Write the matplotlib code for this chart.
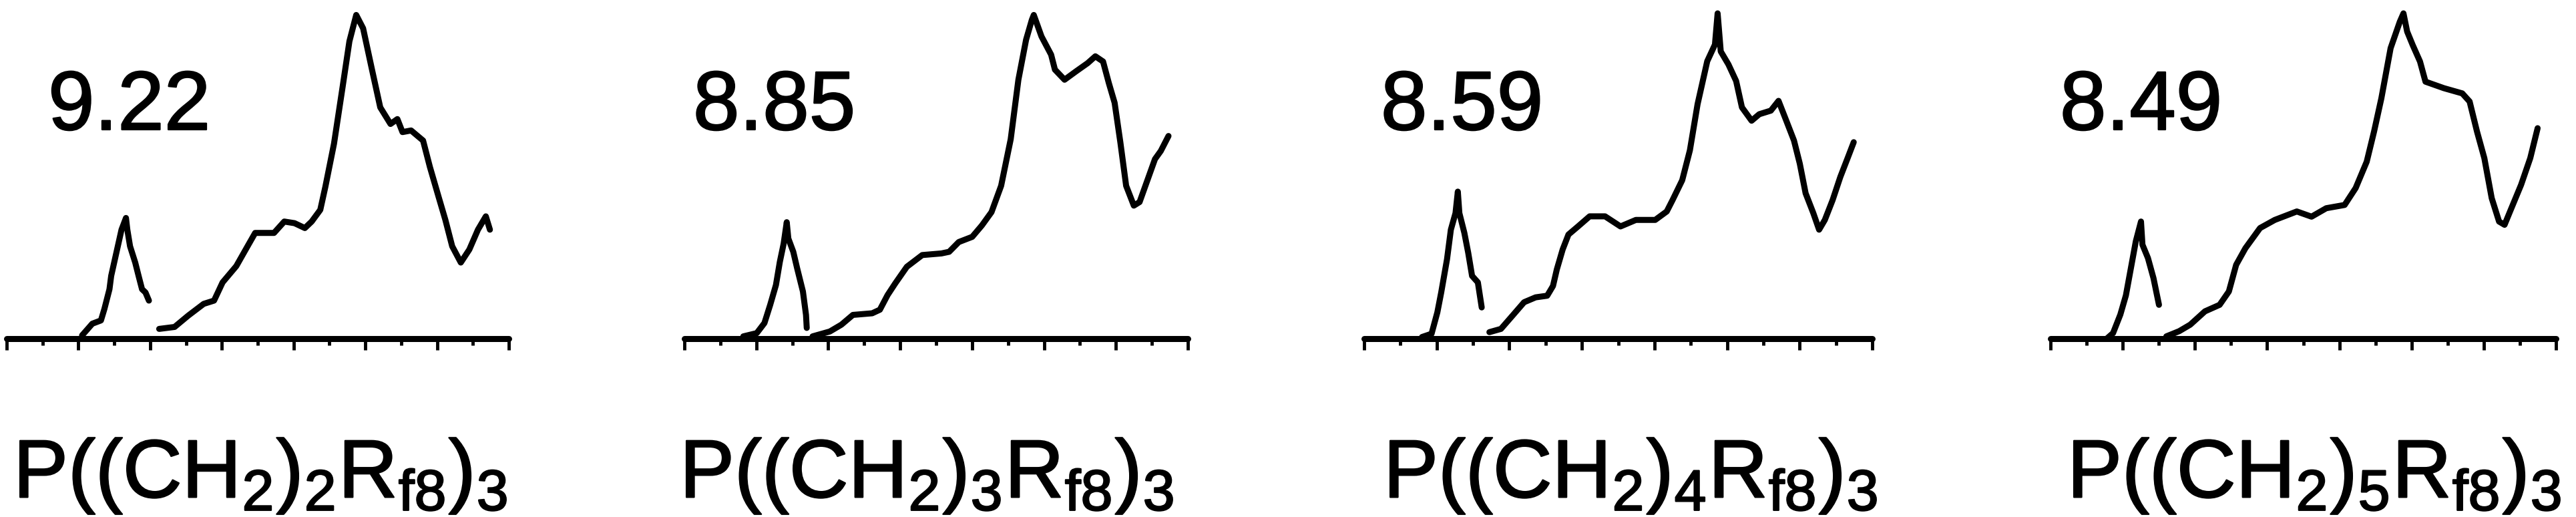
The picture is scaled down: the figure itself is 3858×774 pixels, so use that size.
import matplotlib
matplotlib.use("Agg")
import matplotlib.pyplot as plt
import matplotlib.patheffects as pe
from matplotlib.ticker import MultipleLocator

plt.rcParams['font.family'] = ['Liberation Sans', 'DejaVu Sans']
plt.rcParams['mathtext.fontset'] = 'custom'
plt.rcParams['mathtext.rm'] = 'Liberation Sans'
plt.rcParams['mathtext.it'] = 'Liberation Sans'

# ---- data (x in major-tick units 0..7, y normalised to main peak) ----
values = ["9.22", "8.85", "8.59", "8.49"]
chain_n = ["2", "3", "4", "5"]

p1_small_x = [1.051, 1.194, 1.314, 1.362, 1.433, 1.457, 1.529, 1.601, 1.663, 1.682, 1.720, 1.792, 1.839, 1.887, 1.935, 1.983]
p1_small_y = [0.010, 0.046, 0.056, 0.091, 0.152, 0.193, 0.264, 0.335, 0.371, 0.335, 0.284, 0.234, 0.193, 0.152, 0.142, 0.117]
p1_main_x = [2.126, 2.341, 2.532, 2.747, 2.891, 3.010, 3.201, 3.345, 3.464, 3.727, 3.870, 4.013, 4.157, 4.252, 4.372, 4.443,
             4.563, 4.682, 4.778, 4.873, 4.969, 5.088, 5.208, 5.351, 5.447, 5.518, 5.638, 5.805, 5.900, 6.020, 6.116, 6.211,
             6.331, 6.450, 6.570, 6.680, 6.737]
p1_main_y = [0.030, 0.036, 0.071, 0.107, 0.117, 0.173, 0.223, 0.279, 0.325, 0.325, 0.360, 0.355, 0.340, 0.360, 0.396, 0.467,
             0.599, 0.772, 0.914, 0.995, 0.954, 0.832, 0.711, 0.660, 0.675, 0.635, 0.640, 0.609, 0.528, 0.437, 0.365, 0.284,
             0.234, 0.274, 0.335, 0.376, 0.335]

p2_small_x = [0.819, 1.006, 1.113, 1.193, 1.273, 1.327, 1.380, 1.423, 1.445, 1.514, 1.568, 1.648, 1.691, 1.701]
p2_small_y = [0.007, 0.017, 0.048, 0.104, 0.165, 0.236, 0.292, 0.358, 0.308, 0.267, 0.216, 0.145, 0.073, 0.033]
p2_main_x = [1.782, 2.022, 2.183, 2.343, 2.611, 2.718, 2.825, 2.932, 3.093, 3.307, 3.574, 3.681, 3.815, 4.002, 4.136, 4.270,
             4.404, 4.537, 4.644, 4.751, 4.831, 4.858, 4.965, 5.099, 5.152, 5.286, 5.447, 5.607, 5.714, 5.821, 5.901, 5.982,
             6.062, 6.142, 6.249, 6.329, 6.410, 6.543, 6.624, 6.731]
p2_main_y = [0.007, 0.022, 0.043, 0.073, 0.078, 0.089, 0.134, 0.170, 0.221, 0.257, 0.262, 0.267, 0.297, 0.313, 0.348, 0.389,
             0.470, 0.613, 0.796, 0.919, 0.980, 0.995, 0.929, 0.873, 0.827, 0.796, 0.822, 0.847, 0.868, 0.852, 0.786, 0.725,
             0.603, 0.470, 0.409, 0.420, 0.470, 0.552, 0.577, 0.623]

p3_small_x = [0.797, 0.929, 1.009, 1.062, 1.142, 1.195, 1.259, 1.291, 1.312, 1.381, 1.434, 1.487, 1.567, 1.620]
p3_small_y = [0.005, 0.015, 0.081, 0.142, 0.244, 0.335, 0.386, 0.452, 0.386, 0.325, 0.264, 0.193, 0.173, 0.096]
p3_main_x = [1.726, 1.885, 2.045, 2.204, 2.363, 2.522, 2.602, 2.655, 2.735, 2.815, 2.947, 3.107, 3.319, 3.532, 3.744, 4.010,
             4.169, 4.249, 4.382, 4.488, 4.594, 4.727, 4.833, 4.870, 4.913, 5.019, 5.125, 5.205, 5.338, 5.444, 5.603, 5.709,
             5.816, 5.922, 6.002, 6.082, 6.188, 6.268, 6.347, 6.454, 6.560, 6.666, 6.745]
p3_main_y = [0.020, 0.030, 0.071, 0.112, 0.127, 0.132, 0.162, 0.213, 0.274, 0.320, 0.345, 0.376, 0.376, 0.345, 0.365, 0.365,
             0.391, 0.426, 0.487, 0.579, 0.721, 0.853, 0.904, 1.000, 0.883, 0.843, 0.792, 0.711, 0.670, 0.690, 0.701, 0.731,
             0.670, 0.609, 0.538, 0.447, 0.386, 0.335, 0.365, 0.426, 0.497, 0.558, 0.604]

p4_small_x = [0.789, 0.866, 0.967, 1.044, 1.120, 1.181, 1.253, 1.273, 1.349, 1.426, 1.502]
p4_small_y = [0.002, 0.017, 0.074, 0.133, 0.225, 0.299, 0.360, 0.289, 0.248, 0.186, 0.104]
p4_main_x = [1.604, 1.782, 1.935, 2.139, 2.342, 2.470, 2.571, 2.699, 2.902, 3.106, 3.411, 3.615, 3.819, 4.073, 4.226, 4.379,
             4.481, 4.582, 4.710, 4.837, 4.888, 4.939, 5.015, 5.117, 5.193, 5.448, 5.702, 5.804, 5.906, 6.008, 6.110, 6.212,
             6.288, 6.364, 6.517, 6.644, 6.746]
p4_main_y = [0.007, 0.023, 0.043, 0.084, 0.104, 0.145, 0.227, 0.278, 0.340, 0.365, 0.391, 0.375, 0.401, 0.411, 0.463, 0.544,
             0.637, 0.739, 0.893, 0.974, 1.000, 0.944, 0.903, 0.852, 0.790, 0.770, 0.754, 0.729, 0.637, 0.555, 0.432, 0.360,
             0.350, 0.391, 0.473, 0.555, 0.647]

small_x = [p1_small_x, p2_small_x, p3_small_x, p4_small_x]
small_y = [p1_small_y, p2_small_y, p3_small_y, p4_small_y]
main_x = [p1_main_x, p2_main_x, p3_main_x, p4_main_x]
main_y = [p1_main_y, p2_main_y, p3_main_y, p4_main_y]

# ---- layout (pixels) ----
W, H = 3858, 774
axis_left = [10, 1025, 2043, 3071]
axis_right = [762, 1779, 2804, 3828]
axis_y = 507
top_y = 20
num_x = [72, 1038, 2068, 3085]
num_base = 194
lab_x = [20, 1018, 2072, 3096]
lab_base = 745

bold = [pe.withStroke(linewidth=1.6, foreground='black')]

fig = plt.figure(figsize=(W / 100, H / 100), dpi=100)
for i in range(4):
    l = axis_left[i] / W
    w = (axis_right[i] - axis_left[i]) / W
    b = (H - axis_y) / H
    h = (axis_y - top_y) / H
    ax = fig.add_axes([l, b, w, h])
    ax.plot(small_x[i], small_y[i], color='black', lw=6.5, solid_joinstyle='round', solid_capstyle='round', clip_on=False)
    ax.plot(main_x[i], main_y[i], color='black', lw=6.5, solid_joinstyle='round', solid_capstyle='round', clip_on=False)
    ax.set_xlim(0, 7)
    ax.set_ylim(0, 1)
    for s in ['left', 'right', 'top']:
        ax.spines[s].set_visible(False)
    ax.spines['bottom'].set_linewidth(6.5)
    ax.spines['bottom'].set_capstyle('round')
    ax.set_yticks([])
    ax.xaxis.set_major_locator(MultipleLocator(1))
    ax.xaxis.set_minor_locator(MultipleLocator(0.5))
    ax.tick_params(axis='x', which='major', direction='out', length=12, width=3.5, labelbottom=False)
    ax.tick_params(axis='x', which='minor', direction='out', length=7, width=3.5)
    ax.patch.set_visible(False)

    fig.text(num_x[i] / W, 1 - num_base / H, values[i], fontsize=90, ha='left', va='baseline',
             path_effects=bold)
    label = r'$\mathrm{P((CH_2)_' + chain_n[i] + r'R_{f8})_3}$'
    fig.text(lab_x[i] / W, 1 - lab_base / H, label, fontsize=88.5, ha='left', va='baseline',
             path_effects=bold)

fig.savefig('out.png', dpi=100, facecolor='white')
